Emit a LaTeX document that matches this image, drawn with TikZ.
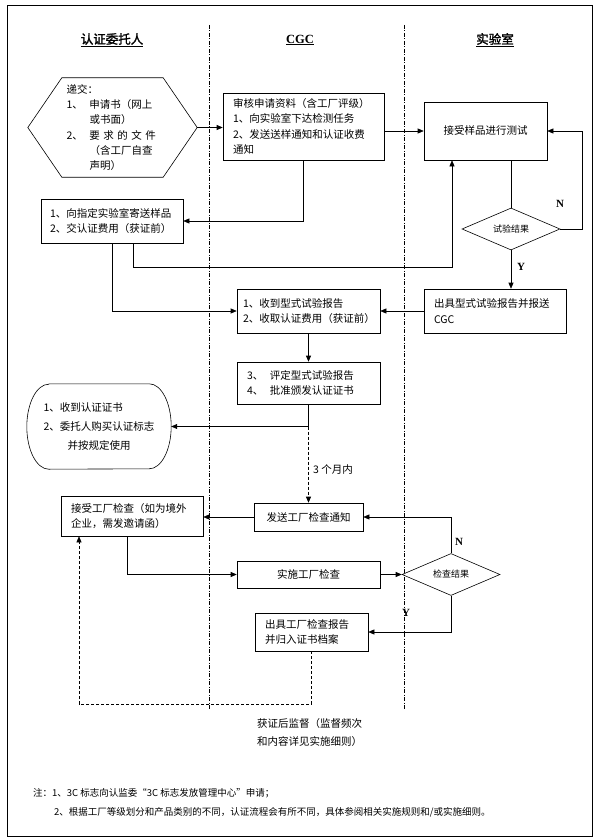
\documentclass[tikz,border=0pt]{standalone}
\usepackage{fontspec}
\setmainfont{Noto Sans CJK SC}[AutoFakeBold=2]
\newfontfamily\tnr{Liberation Serif}
\usepackage{tikz}
\usetikzlibrary{arrows.meta,positioning,shapes.geometric}

\begin{document}
\begin{tikzpicture}
    [x=1pt,y=-1pt,>={Triangle[length=6pt,width=5pt]},
     every node/.style={font=\fontsize{10.5}{15.3}\selectfont},
     box/.style={draw,rectangle,line width=.6pt,align=left,inner xsep=10pt,inner ysep=0pt},
     test/.style={draw,diamond,aspect=2.3,line width=.6pt,inner sep=0pt,minimum width=98pt,minimum height=42pt,font=\fontsize{9}{11}\selectfont},
     head/.style={font=\fontsize{12.5}{15}\selectfont\bfseries},
     yn/.style={inner sep=0pt,font=\fontsize{11}{13}\selectfont\tnr\bfseries},
     conn/.style={line width=.6pt},
     lane/.style={line width=.6pt,dash pattern=on 4pt off 1.5pt on 1pt off 1.5pt}]
    \useasboundingbox (0,0) rectangle (596,840);
    \draw[conn] (7,5) rectangle (592,836);
    \draw[lane] (209,25) -- (209,710);
    \draw[lane] (404,25) -- (404,710);

    % lanes
    \node[head] (h1) at (112,40) {\underline{认证委托人}};
    \node[head,font=\fontsize{12.5}{15}\selectfont\tnr\bfseries] (h2) at (300,40) {\underline{CGC}};
    \node[head] (h3) at (495,40) {\underline{实验室}};

    % type test
    \node[minimum width=169pt,minimum height=99pt,text width=92pt,align=left,inner sep=0pt] (hex) at (112.5,127.5)
        {递交：\\
         \makebox[23pt][l]{1、}申请书（网上\\
         \hspace*{23pt}或书面）\\
         \makebox[23pt][l]{2、}要\hspace{3.5pt}求\hspace{3.5pt}的\hspace{3.5pt}文\hspace{3.5pt}件\\
         \hspace*{23pt}（含工厂自查\\
         \hspace*{23pt}声明）};
    \draw[conn] (hex.west) -- ([xshift=34pt]hex.north west) -- ([xshift=-34pt]hex.north east) -- (hex.east)
        -- ([xshift=-34pt]hex.south east) -- ([xshift=34pt]hex.south west) -- cycle;
    \node[box,minimum width=161pt,text width=141pt,minimum height=67pt] (c1) at (303.5,126.5)
        {审核申请资料（含工厂评级）\\1、向实验室下达检测任务\\2、发送送样通知和认证收费\\通知};
    \node[box,minimum width=123pt,minimum height=58pt,align=center] (l1) at (485.5,131) {接受样品进行测试};
    \node[box,minimum width=142pt,text width=124pt,inner xsep=9pt,minimum height=44pt] (a1) at (112,221)
        {1、向指定实验室寄送样品\\2、交认证费用（获证前）};
    \node[test] (d1) at (511,229) {试验结果};
    \node[box,minimum width=142pt,text width=122pt,minimum height=44pt] (l2) at (495,311) {出具型式试验报告并报送\\CGC};
    \node[box,minimum width=143pt,text width=131pt,inner xsep=6pt,minimum height=44pt] (c2) at (308.5,311)
        {1、收到型式试验报告\\2、收取认证费用（获证前）};
    \node[box,minimum width=143pt,text width=123pt,minimum height=42pt] (c3) at (308.5,383)
        {\makebox[23pt][l]{3、}评定型式试验报告\\\makebox[23pt][l]{4、}批准颁发认证证书};
    \node[minimum width=144pt,minimum height=85pt,text width=111pt,align=left,inner sep=0pt,
          font=\fontsize{10.5}{19}\selectfont] (r1) at (99,426.5)
        {1、收到认证证书\\2、委托人购买认证标志\\\hspace*{24pt}并按规定使用};
    \draw[conn] ([xshift=22pt]r1.north west) -- ([xshift=-22pt]r1.north east)
        arc[start angle=90,end angle=-90,x radius=22pt,y radius=42.5pt] -- ([xshift=22pt]r1.south west)
        arc[start angle=270,end angle=90,x radius=22pt,y radius=42.5pt] -- cycle;

    % factory inspection
    \node[box,minimum width=142pt,text width=122pt,minimum height=40pt] (a2) at (132,516) {接受工厂检查（如为境外\\企业，需发邀请函）};
    \node[box,minimum width=109pt,minimum height=28pt,align=center] (c4) at (308.5,517) {发送工厂检查通知};
    \node[box,minimum width=143pt,minimum height=27pt,align=center] (c5) at (308.5,574.5) {实施工厂检查};
    \node[test] (d2) at (451,574.5) {检查结果};
    \node[box,minimum width=113pt,text width=93pt,minimum height=38pt] (c6) at (311.5,632) {出具工厂检查报告\\并归入证书档案};

    \node[yn] (n1) at (560,204) {N};
    \node[yn] (y1) at (521,267) {Y};
    \node[yn] (n2) at (459,542) {N};
    \node[yn] (y2) at (406,613) {Y};
    \node[anchor=west,inner sep=0pt] (t1) at (313,470) {3 个月内};
    \node[anchor=north west,align=left,inner sep=0pt,font=\fontsize{10.5}{18}\selectfont] (t2) at (257,718)
        {获证后监督（监督频次\\和内容详见实施细则）};
    \node[anchor=west,inner sep=0pt,font=\fontsize{9.5}{12}\selectfont] (m1) at (33,793)
        {注：1、3C 标志向认监委“3C 标志发放管理中心”申请；};
    \node[anchor=west,inner sep=0pt,font=\fontsize{9.5}{12}\selectfont] (m2) at (54,812)
        {2、根据工厂等级划分和产品类别的不同，认证流程会有所不同，具体参阅相关实施规则和/或实施细则。};

    % connectors
    \draw[conn,->] (hex.east) -- (hex.east -| c1.west);
    \draw[conn,->] (c1.east |- l1.west) -- (l1.west);
    \draw[conn,->] (c1.south) |- (a1.east);
    \draw[conn,->] (a1.south) |- (c2.west);
    \coordinate (k1) at (452,267);
    \draw[conn,->] ([xshift=21pt]a1.south) |- (k1) -- (k1 |- l1.south);
    \draw[conn] (d1.north |- l1.south) -- (d1.north);
    \draw[conn,->] (d1.east) -- ++(22,0) |- (l1.east);
    \draw[conn,->] (d1.south) -- (d1.south |- l2.north);
    \draw[conn,->] (l2.west) -- (c2.east);
    \draw[conn,->] (c2.south) -- (c3.north);
    \coordinate (k2) at (c3.south |- r1.east);
    \draw[conn,->] (c3.south) -- (k2) -- (r1.east);
    \draw[conn,dash pattern=on 3pt off 2pt,->] (k2) -- (c4.north);
    \draw[conn,->] (c4.west) -- (c4.west -| a2.east);
    \draw[conn,->] ([xshift=-5pt]a2.south) |- (c5.west);
    \draw[conn,->] (c5.east) -- (d2.west);
    \draw[conn,->] (d2.north) |- (c4.east);
    \draw[conn,->] (d2.south) |- (c6.east);
    \coordinate (k3) at (79,704);
    \draw[conn,dash pattern=on 3pt off 2pt,->] (c6.south) |- (k3) -- (k3 |- a2.south);
\end{tikzpicture}
\end{document}
